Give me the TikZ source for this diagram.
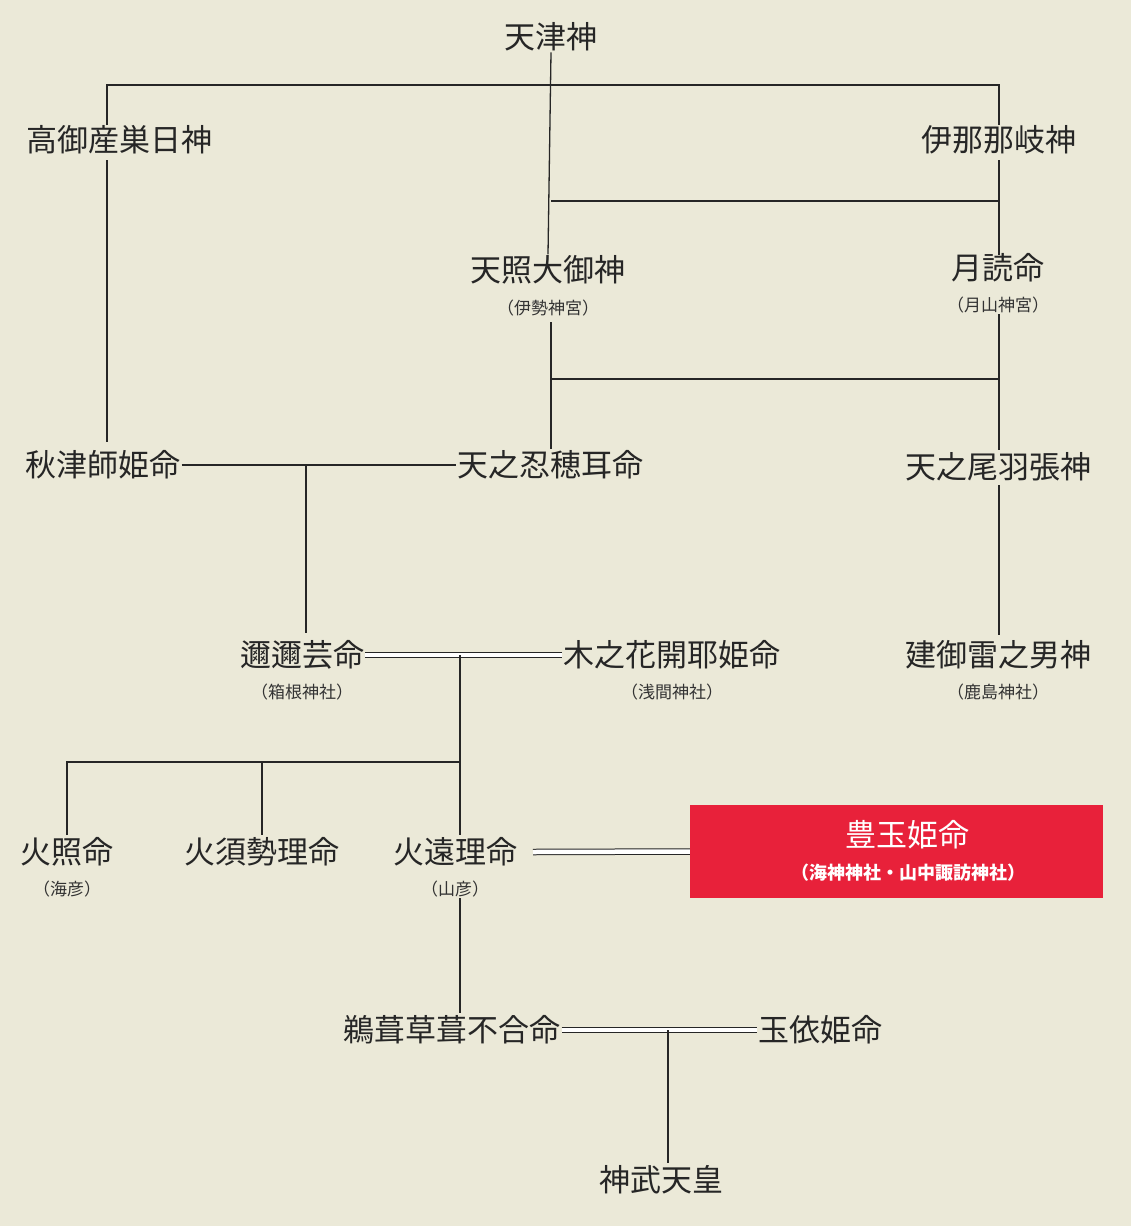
\documentclass[tikz,border=0pt]{standalone}
\usepackage{fontspec}
\newfontfamily\jp{Noto Sans CJK JP}
\begin{document}
\begin{tikzpicture}[x=1pt,y=-1pt,
  nm/.style={font=\jp\fontsize{31}{34}\selectfont,inner sep=1pt,text=black!85},
  sb/.style={font=\jp\fontsize{17}{20}\selectfont,inner sep=1pt,text=black!80},
  ln/.style={line width=1.3pt,black!85}]
\fill[fill={rgb,255:red,235;green,233;blue,216}] (0,0) rectangle (1131,1226);
\useasboundingbox (0,0) rectangle (1131,1226);
% nodes
\node[nm] (tj) at (551,37) {天津神};
\node[nm] (tk) at (120,140) {高御産巣日神};
\node[nm] (iz) at (999,140) {伊那那岐神};
\node[nm] (am) at (548,270) {天照大御神};
\node[sb] (ams) at (548,308) {（伊勢神宮）};
\node[nm] (tu) at (998,268) {月読命};
\node[sb] (tus) at (998,305) {（月山神宮）};
\node[nm] (ak) at (103,465) {秋津師姫命};
\node[nm] (os) at (550,465) {天之忍穂耳命};
\node[nm] (ow) at (998,467) {天之尾羽張神};
\node[nm] (ni) at (302,655) {邇邇芸命};
\node[sb] (nis) at (302,692) {（箱根神社）};
\node[nm] (ko) at (672,655) {木之花開耶姫命};
\node[sb] (kos) at (672,692) {（浅間神社）};
\node[nm] (ta) at (998,655) {建御雷之男神};
\node[sb] (tas) at (998,692) {（鹿島神社）};
\node[nm] (hd) at (67,852) {火照命};
\node[sb] (hds) at (67,889) {（海彦）};
\node[nm] (hs) at (262,852) {火須勢理命};
\node[nm] (ho) at (455,852) {火遠理命};
\node[sb] (hos) at (455,889) {（山彦）};
\node[fill={rgb,255:red,232;green,33;blue,58},minimum width=413pt,minimum height=93pt,inner sep=0pt] (tb) at (896.5,851.5) {};
\node[nm,text=white] (tt) at (907,835) {豊玉姫命};
\node[sb,text=white,font=\jp\bfseries\fontsize{18}{20}\selectfont] (tts) at (908,873) {（海神神社・山中諏訪神社）};
\node[nm] (uk) at (452,1030) {鵜葺草葺不合命};
\node[nm] (ty) at (820,1030) {玉依姫命};
\node[nm] (jm) at (661,1180) {神武天皇};
% junctions
\coordinate (j1) at (551,85);
\coordinate (j2) at (551,201);
\coordinate (j3) at (551,379);
\coordinate (j4) at (306,465);
\coordinate (j5) at (460,655);
\coordinate (j6) at (460,762);
\coordinate (j7) at (668,1030);
% lines
\draw[ln] (tj.south) -- (am.north);
\draw[ln] (107,125) |- (j1) -| (999,125);
\draw[ln] (107,160) -- (107,442);
\draw[ln] (999,160) -- (999,255);
\draw[ln] (j2) -- (999,201);
\draw[ln] (551,322) -- (os.north -| 551,0);
\draw[ln] (tus.south -| 999,0) -- (999,450);
\draw[ln] (j3) -- (999,379);
\draw[ln] (ak.east) -- (os.west);
\draw[ln] (j4) -- (306,633);
\draw[ln] (999,485) -- (999,635);
\draw[ln,double,double distance=4.5pt,line width=1pt] (ni.east) -- (ko.west);
\draw[ln] (j5) -- (j6);
\draw[ln] (67,835) |- (j6);
\draw[ln] (262,762) -- (262,835);
\draw[ln] (j6) -- (460,835);
\draw[ln,double,double distance=4.5pt,line width=1pt] (533,852) -- (tb.west);
\draw[ln] (hos.south -| 460,0) -- (460,1013);
\draw[ln,double,double distance=4.5pt,line width=1pt] (uk.east) -- (ty.west);
\draw[ln] (j7) -- (668,1163);
\end{tikzpicture}
\end{document}
